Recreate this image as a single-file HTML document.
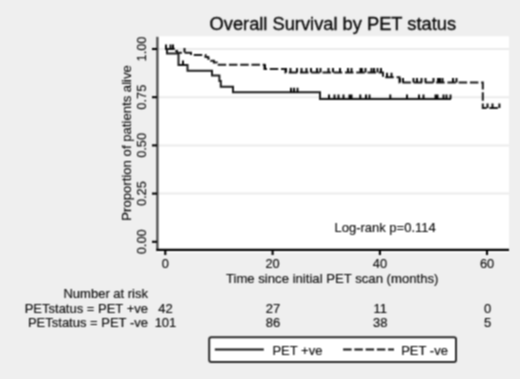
<!DOCTYPE html>
<html><head><meta charset="utf-8">
<style>
html,body{margin:0;padding:0;background:#efefef;}
body{width:520px;height:379px;overflow:hidden;}
svg{display:block;}
text{font-family:"Liberation Sans",sans-serif;fill:#0a0a0a;stroke:#0a0a0a;stroke-width:0.15;}
</style></head>
<body>
<svg width="520" height="379" viewBox="0 0 520 379">
<defs><filter id="bl" x="0" y="0" width="520" height="379" filterUnits="userSpaceOnUse" color-interpolation-filters="sRGB"><feConvolveMatrix order="3" kernelMatrix="1 2 1 2 4 2 1 2 1" edgeMode="duplicate"/></filter></defs>
<g filter="url(#bl)">
<rect x="0" y="0" width="520" height="379" fill="#efefef"/>

<rect x="157" y="36.3" width="352" height="216.3" fill="#ffffff"/>
<g stroke="#ebebeb" stroke-width="2">
<line x1="158" y1="49.0" x2="509" y2="49.0"/>
<line x1="158" y1="97.2" x2="509" y2="97.2"/>
<line x1="158" y1="145.4" x2="509" y2="145.4"/>
<line x1="158" y1="193.6" x2="509" y2="193.6"/>
</g>
<text x="332.8" y="30" font-size="18.3" text-anchor="middle" style="stroke-width:0.35">Overall Survival by PET status</text>
<line x1="157.4" y1="36.8" x2="157.4" y2="250.5" stroke="#4a4a4a" stroke-width="2.3"/>
<g stroke="#000" stroke-width="2.1">
<line x1="152" y1="49.0" x2="157" y2="49.0"/>
<line x1="152" y1="97.2" x2="157" y2="97.2"/>
<line x1="152" y1="145.4" x2="157" y2="145.4"/>
<line x1="152" y1="193.6" x2="157" y2="193.6"/>
<line x1="152" y1="241.8" x2="157" y2="241.8"/>
</g>
<g font-size="12.8" text-anchor="middle">
<text transform="translate(146.1,49.0) rotate(-90)">1.00</text>
<text transform="translate(146.1,97.2) rotate(-90)">0.75</text>
<text transform="translate(146.1,145.4) rotate(-90)">0.50</text>
<text transform="translate(146.1,193.6) rotate(-90)">0.25</text>
<text transform="translate(146.1,241.8) rotate(-90)">0.00</text>
</g>
<text transform="translate(131.3,142.9) rotate(-90)" font-size="13.15" text-anchor="middle">Proportion of patients alive</text>
<line x1="156.3" y1="249.9" x2="509" y2="249.9" stroke="#000" stroke-width="2.2"/>
<g stroke="#000" stroke-width="2.1">
<line x1="165.3" y1="250" x2="165.3" y2="255"/>
<line x1="272.6" y1="250" x2="272.6" y2="255"/>
<line x1="379.9" y1="250" x2="379.9" y2="255"/>
<line x1="487.0" y1="250" x2="487.0" y2="255"/>
</g>
<g font-size="12.8" text-anchor="middle">
<text x="165.3" y="268">0</text>
<text x="272.6" y="268">20</text>
<text x="379.9" y="268">40</text>
<text x="487.0" y="268">60</text>
</g>
<text x="332.2" y="282.5" font-size="13.15" text-anchor="middle">Time since initial PET scan (months)</text>
<text x="385.1" y="231.8" font-size="13.0" text-anchor="middle">Log-rank p=0.114</text>
<g fill="none" stroke="#1a1a1a" stroke-width="2.0">
<path d="M165,49 H167 V53.5 H178.5 V65 H187.5 V70.8 H212 V75.6 H219.4 V81 H220.8 V86.8 H233 V92.3 H320 V98.9 H451"/>
<path stroke-dasharray="8.5 2.75" stroke-dashoffset="-1" d="M165,49 H174 V51 H177 V52.8 H191 V55 H205.5 V56.9 H208.3 V58.8 H211.1 V60.7 H213.9 V62.6 H216.7 V64.8 H264.5 V69 H285.5 V72.5 H383 V77.2 H399.5 V82.6 H482.8 V108.1 H500.6"/>
</g>
<g fill="none" stroke="#000" stroke-width="1.9">
<path d="M166,49v-4.5 M170.5,49v-4.5 M173,49v-4.5 M183,65v-4.5 M291,92.3v-4.5 M294,92.3v-4.5 M297.5,92.3v-4.5 M329,98.9v-4.5 M334.5,98.9v-4.5 M338.5,98.9v-4.5 M343.5,98.9v-4.5 M349.5,98.9v-4.5 M351.5,98.9v-4.5 M360.3,98.9v-4.5 M366,98.9v-4.5 M369.5,98.9v-4.5 M390.3,98.9v-4.5 M407,98.9v-4.5 M419,98.9v-4.5 M423.5,98.9v-4.5 M435.5,98.9v-4.5 M437.5,98.9v-4.5 M443.5,98.9v-4.5 M446.5,98.9v-4.5 M450.5,98.9v-4.5"/>
<path d="M184.5,52.6v-4.5 M265,69v-4.5 M286,72.5v-4.5 M290.5,72.5v-4.5 M297,72.5v-4.5 M301.5,72.5v-4.5 M306.5,72.5v-4.5 M311,72.5v-4.5 M317,72.5v-4.5 M320.5,72.5v-4.5 M328.5,72.5v-4.5 M333,72.5v-4.5 M340,72.5v-4.5 M348,72.5v-4.5 M351.5,72.5v-4.5 M360.5,72.5v-4.5 M361.8,72.5v-4.5 M365.5,72.5v-4.5 M371.5,72.5v-4.5 M374,72.5v-4.5 M377.5,72.5v-4.5 M381,72.5v-4.5 M387,77.2v-4.5 M391.5,77.2v-4.5 M400,82.6v-4.5 M403,82.6v-4.5 M413.5,82.6v-4.5 M417,82.6v-4.5 M421.5,82.6v-4.5 M425.5,82.6v-4.5 M433.5,82.6v-4.5 M438,82.6v-4.5 M440,82.6v-4.5 M442.5,82.6v-4.5 M453,82.6v-4.5 M456.5,82.6v-4.5 M487.5,108.1v-4.5 M492.5,108.1v-4.5 M499.4,108.1v-4.5"/>
</g>
<g font-size="13.0" text-anchor="end">
<text x="148" y="297.5">Number at risk</text>
<text x="148" y="312.8">PETstatus = PET +ve</text>
<text x="148" y="326.9">PETstatus = PET -ve</text>
</g>
<g font-size="13.0" text-anchor="middle">
<text x="165.5" y="312.8">42</text><text x="165.5" y="326.9">101</text>
<text x="273" y="312.8">27</text><text x="273" y="326.9">86</text>
<text x="380.2" y="312.8">11</text><text x="380.2" y="326.9">38</text>
<text x="487.7" y="312.8">0</text><text x="487.7" y="326.9">5</text>
</g>
<rect x="209.2" y="337.3" width="246.8" height="24.8" rx="2" fill="#fff" stroke="#2a2a2a" stroke-width="2"/>
<line x1="214.8" y1="349.4" x2="263.8" y2="349.4" stroke="#111" stroke-width="2.0"/>
<line x1="343.1" y1="349.4" x2="394" y2="349.4" stroke="#111" stroke-width="2.0" stroke-dasharray="8.5 2.75"/>
<g font-size="13.0">
<text x="272.4" y="355">PET +ve</text>
<text x="401.2" y="355">PET -ve</text>
</g>
</g></svg>
</body></html>
